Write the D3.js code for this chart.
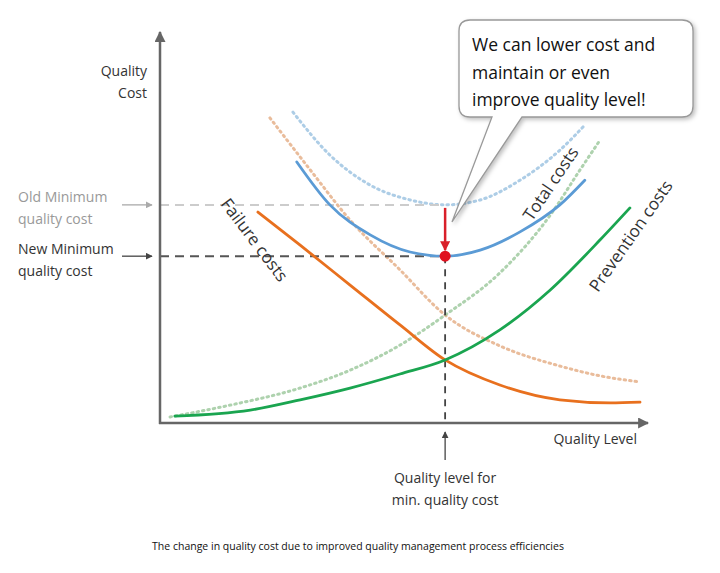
<!DOCTYPE html>
<html><head><meta charset="utf-8">
<script src="https://cdn.jsdelivr.net/npm/d3@7"></script>
<style>body{margin:0;background:#fff}text{font-family:"Open Sans",sans-serif}</style>
</head><body><svg id="c" width="720" height="573"></svg>
<script>
const failure=[[20.4,55.5],[29.2,46.8],[39.6,36.3],[50,25.8],[59.4,16.6],[70.8,10],[83.3,6.1],[93.8,5.3],[100,5.5]];
const prevention=[[3.1,1.8],[18.8,3.4],[29.2,6.1],[39.6,9.2],[50,12.9],[59.4,16.6],[70.8,24.5],[81.3,35],[91.7,48.2],[97.9,56.6]];
const total=[[28.5,68.7],[35.4,57.4],[43.8,49.5],[52.1,45],[59.4,43.9],[66.7,45.5],[75,50.3],[83.3,57.4],[88.5,63.9]];
const oldTotal=[[27.7,81.8],[35.4,70.5],[43.8,62.6],[52.1,58.7],[59.4,57.4],[66.7,58.7],[75,63.9],[83.3,71.8],[88.5,78.4]];
const oldFailure=[[22.9,80.3],[31.3,66.6],[39.6,53.4],[50,40.3],[59.4,28.4],[70.8,20.3],[83.3,15],[91.7,12.4],[100,10.8]];
const oldPrevention=[[2.1,1.6],[14.6,4.7],[29.2,9.2],[39.6,13.9],[50,20.5],[59.4,28.4],[70.8,39.5],[81.3,54.7],[87.5,66.6],[91.7,74.5]];
const oldMin=57.4, newMin=43.9, optQ=59.4;

const svg=d3.select("#c");
const x=d3.scaleLinear().domain([0,100]).range([160,640]);
const y=d3.scaleLinear().domain([0,100]).range([423,43]);
const defs=svg.append("defs");
function marker(id,col,s){defs.append("marker").attr("id",id).attr("viewBox","0 0 10 10").attr("refX",9).attr("refY",5)
 .attr("markerWidth",s).attr("markerHeight",s).attr("orient","auto").attr("markerUnits","userSpaceOnUse")
 .append("path").attr("d","M0,0L10,5L0,10z").attr("fill",col);}
marker("ag","#666",11);marker("al","#aaa",7);marker("ad","#444",7);marker("ar","#d9202a",10);

const line=d3.line().x(d=>x(d[0])).y(d=>y(d[1])).curve(d3.curveMonotoneX);
function curve(data,col,dotted){svg.append("path").attr("d",line(data)).attr("fill","none").attr("stroke",col)
 .attr("stroke-width",dotted?3:2.8).attr("stroke-dasharray",dotted?"1.5,4":null).attr("stroke-linecap","round").attr("opacity",dotted?0.7:1);}
curve(oldTotal,"#8ab8dc",true);curve(oldFailure,"#e0a070",true);curve(oldPrevention,"#8cbf8c",true);

svg.append("line").attr("x1",x(0)).attr("x2",x(optQ)).attr("y1",y(oldMin)).attr("y2",y(oldMin)).attr("stroke","#ccc").attr("stroke-width",2).attr("stroke-dasharray","9,6");
svg.append("line").attr("x1",x(0)).attr("x2",x(optQ)).attr("y1",y(newMin)).attr("y2",y(newMin)).attr("stroke","#555").attr("stroke-width",2).attr("stroke-dasharray","9,6");
svg.append("line").attr("x1",x(optQ)).attr("x2",x(optQ)).attr("y1",y(newMin)).attr("y2",y(0)).attr("stroke","#444").attr("stroke-width",1.8).attr("stroke-dasharray","7,6");

curve(failure,"#e8701e",false);curve(prevention,"#1aa550",false);curve(total,"#5b9bd5",false);

svg.append("line").attr("x1",x(0)).attr("x2",x(0)).attr("y1",y(0)+1).attr("y2",32).attr("stroke","#666").attr("stroke-width",2.5).attr("marker-end","url(#ag)");
svg.append("line").attr("x1",x(0)-1).attr("x2",648).attr("y1",y(0)).attr("y2",y(0)).attr("stroke","#666").attr("stroke-width",2.5).attr("marker-end","url(#ag)");

svg.append("line").attr("x1",x(optQ)).attr("x2",x(optQ)).attr("y1",y(oldMin)+3).attr("y2",y(newMin)-6).attr("stroke","#d9202a").attr("stroke-width",2.5).attr("marker-end","url(#ar)");
svg.append("circle").attr("cx",x(optQ)).attr("cy",y(newMin)).attr("r",5.5).attr("fill","#e0101e");

svg.append("line").attr("x1",122).attr("x2",152).attr("y1",y(oldMin)).attr("y2",y(oldMin)).attr("stroke","#aaa").attr("stroke-width",1.3).attr("marker-end","url(#al)");
svg.append("line").attr("x1",122).attr("x2",152).attr("y1",y(newMin)).attr("y2",y(newMin)).attr("stroke","#444").attr("stroke-width",1.3).attr("marker-end","url(#ad)");
svg.append("line").attr("x1",x(optQ)).attr("x2",x(optQ)).attr("y1",460).attr("y2",432).attr("stroke","#444").attr("stroke-width",1.3).attr("marker-end","url(#ad)");

function txt(t,px,py,o={}){const e=svg.append("text").attr("x",px).attr("y",py).text(t).attr("font-size",o.s||14).attr("fill",o.c||"#333").attr("text-anchor",o.a||"start");
 if(o.r!==undefined)e.attr("transform",`rotate(${o.r},${px},${py})`);return e;}
txt("Quality",147,76,{a:"end"});txt("Cost",147,98,{a:"end"});
txt("Old Minimum",18,202,{c:"#999"});txt("quality cost",18,224,{c:"#999"});
txt("New Minimum",18,254);txt("quality cost",18,276);
txt("Quality Level",637,444,{a:"end"});
txt("Quality level for",x(optQ),483,{a:"middle"});txt("min. quality cost",x(optQ),505,{a:"middle"});
txt("The change in quality cost due to improved quality management process efficiencies",358,550,{a:"middle",s:10.5,c:"#111"});
txt("Failure costs",220,204,{s:17,r:53});
txt("Total costs",532,222,{s:17,r:-56});
txt("Prevention costs",598,293,{s:17,r:-55});

svg.append("path").attr("d","M470,20 H682 Q693,20 693,31 V106 Q693,117 682,117 H522 L452,222 L492,117 H470 Q459,117 459,106 V31 Q459,20 470,20 Z")
 .attr("fill","#fff").attr("stroke","#999").attr("stroke-width",1.3).style("filter","drop-shadow(2px 2px 2px rgba(0,0,0,0.25))");
txt("We can lower cost and",472,51,{s:17.5,c:"#111"});txt("maintain or even",472,79,{s:17.5,c:"#111"});txt("improve quality level!",472,106,{s:17.5,c:"#111"});
</script></body></html>
